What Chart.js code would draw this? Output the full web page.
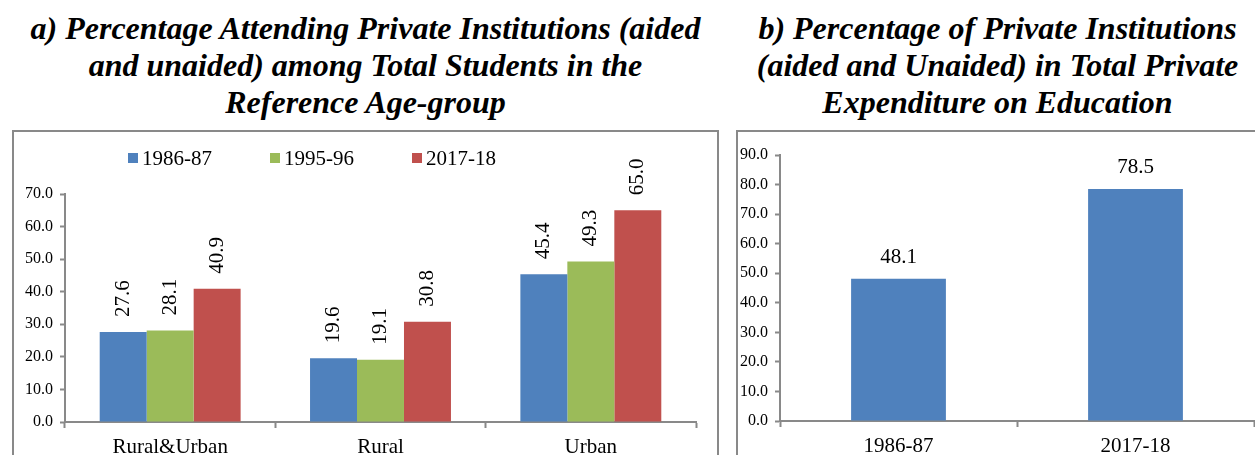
<!DOCTYPE html>
<html lang="en">
<head>
    <meta charset="UTF-8">
    <title>Private Institutions in Education</title>
    <script src="https://cdn.jsdelivr.net/npm/chart.js"></script>
    <style>
        body {
            margin: 0;
            width: 1255px;
            height: 455px;
            overflow: hidden;
            background: #fff;
            position: relative;
            font-family: "Liberation Serif", "Times New Roman", serif;
        }
        .title {
            position: absolute;
            top: 10px;
            font-size: 32px;
            line-height: 37px;
            font-weight: bold;
            font-style: italic;
            text-align: center;
            color: #000;
        }
        .box {
            position: absolute;
            top: 130px;
            height: 400px;
            border: 2px solid #898989;
            box-sizing: border-box;
        }
        canvas { position: absolute; }
    </style>
</head>
<body>
    <div class="title" style="left:12px; width:707px;">a) Percentage Attending Private Institutions (aided<br>and unaided) among Total Students in the<br>Reference Age-group</div>
    <div class="title" style="left:737px; width:521px;">b) Percentage of Private Institutions<br>(aided and Unaided) in Total Private<br>Expenditure on Education</div>

    <div class="box" style="left:12px; width:707px;"></div>
    <div class="box" style="left:736px; width:600px;"></div>

    <canvas id="chartA" style="left:14px; top:132px;"></canvas>
    <canvas id="chartB" style="left:738px; top:132px;"></canvas>

    <script>
        // a) share of students in private institutions
        const areas = ['Rural&Urban', 'Rural', 'Urban'];
        const years = ['1986-87', '1995-96', '2017-18'];
        const share1986 = [27.6, 19.6, 45.4];
        const share1995 = [28.1, 19.1, 49.3];
        const share2017 = [40.9, 30.8, 65.0];

        // b) share of private institutions in private expenditure
        const expYears = ['1986-87', '2017-18'];
        const expShare = [48.1, 78.5];

        const colours = ['#4F81BD', '#9BBB59', '#C0504D'];
        const axisGrey = '#898989';
        const serif = '"Liberation Serif", "Times New Roman", serif';

        Chart.defaults.font.family = serif;
        Chart.defaults.color = '#000';

        // numbers on top of the bars
        const valueLabels = {
            id: 'valueLabels',
            afterDatasetsDraw(chart, args, opts) {
                const ctx = chart.ctx;
                ctx.save();
                ctx.fillStyle = '#000';
                ctx.font = opts.size + 'px ' + serif;
                chart.data.datasets.forEach((ds, i) => {
                    chart.getDatasetMeta(i).data.forEach((bar, j) => {
                        const txt = ds.data[j].toFixed(1);
                        if (opts.rotate) {
                            ctx.save();
                            ctx.translate(bar.x, bar.y - opts.gap);
                            ctx.rotate(-Math.PI / 2);
                            ctx.textAlign = 'left';
                            ctx.textBaseline = 'middle';
                            ctx.fillText(txt, 0, 0);
                            ctx.restore();
                        } else {
                            ctx.textAlign = 'center';
                            ctx.textBaseline = 'alphabetic';
                            ctx.fillText(txt, bar.x, bar.y - opts.gap);
                        }
                    });
                });
                ctx.restore();
            }
        };

        // legend row with small square swatches
        const boxLegend = {
            id: 'boxLegend',
            afterDraw(chart, args, opts) {
                if (!opts.show) return;
                const ctx = chart.ctx;
                ctx.save();
                ctx.font = opts.size + 'px ' + serif;
                ctx.textAlign = 'left';
                ctx.textBaseline = 'middle';
                chart.data.datasets.forEach((ds, i) => {
                    const x = chart.chartArea.left + opts.offsetX + i * opts.spacing;
                    ctx.fillStyle = ds.backgroundColor;
                    ctx.fillRect(x, opts.y - 5, 10, 10);
                    ctx.fillStyle = '#000';
                    ctx.fillText(ds.label, x + 14, opts.y + 1);
                });
                ctx.restore();
            }
        };

        function axes(maxY, yWidth, xHeight) {
            return {
                x: {
                    grid: {
                        offset: true,
                        drawOnChartArea: false,
                        drawTicks: true,
                        tickLength: 6,
                        tickColor: axisGrey,
                        tickWidth: 2
                    },
                    border: { color: axisGrey, width: 2 },
                    ticks: { font: { size: 21 }, padding: 7, color: '#000' },
                    afterFit: s => { s.height = xHeight; }
                },
                y: {
                    min: 0,
                    max: maxY,
                    grid: {
                        drawOnChartArea: false,
                        drawTicks: true,
                        tickLength: 5,
                        tickColor: axisGrey,
                        tickWidth: 2
                    },
                    border: { color: axisGrey, width: 2 },
                    ticks: {
                        stepSize: 10,
                        font: { size: 16 },
                        padding: 7,
                        color: '#000',
                        callback: v => v.toFixed(1)
                    },
                    afterFit: s => { s.width = yWidth; }
                }
            };
        }

        const canvasA = document.getElementById('chartA');
        canvasA.width = 703;
        canvasA.height = 330;
        new Chart(canvasA, {
            type: 'bar',
            data: {
                labels: areas,
                datasets: [
                    { label: years[0], data: share1986, backgroundColor: colours[0] },
                    { label: years[1], data: share1995, backgroundColor: colours[1] },
                    { label: years[2], data: share2017, backgroundColor: colours[2] }
                ]
            },
            options: {
                responsive: false,
                animation: false,
                categoryPercentage: 0.67,
                barPercentage: 1.0,
                layout: { padding: { top: 62, right: 21, left: 0, bottom: 0 } },
                scales: axes(70, 51, 40),
                plugins: {
                    legend: { display: false },
                    tooltip: { enabled: false },
                    valueLabels: { rotate: true, gap: 15, size: 21 },
                    boxLegend: { show: true, y: 26, offsetX: 63, spacing: 142, size: 21 }
                }
            },
            plugins: [valueLabels, boxLegend]
        });

        const canvasB = document.getElementById('chartB');
        canvasB.width = 517;
        canvasB.height = 330;
        new Chart(canvasB, {
            type: 'bar',
            data: {
                labels: expYears,
                datasets: [
                    { label: 'Share', data: expShare, backgroundColor: colours[0] }
                ]
            },
            options: {
                responsive: false,
                animation: false,
                categoryPercentage: 0.4,
                barPercentage: 1.0,
                layout: { padding: { top: 23, right: 1, left: 0, bottom: 0 } },
                scales: axes(90, 42, 41),
                plugins: {
                    legend: { display: false },
                    tooltip: { enabled: false },
                    valueLabels: { rotate: false, gap: 16, size: 21 },
                    boxLegend: { show: false }
                }
            },
            plugins: [valueLabels, boxLegend]
        });
    </script>
</body>
</html>
